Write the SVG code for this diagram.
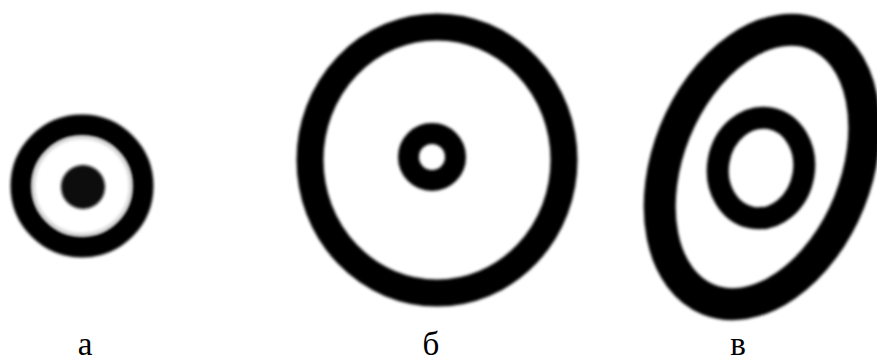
<svg xmlns="http://www.w3.org/2000/svg" width="877" height="363" viewBox="0 0 877 363">
  <style>
    .ring { fill: none; stroke: #000; }
    .lbl { font-family: "Liberation Serif", "Times New Roman", serif; font-size: 33px; fill: #000; text-anchor: middle; }
  </style>
  <defs>
    <filter id="soft" x="-10%" y="-10%" width="120%" height="120%">
      <feGaussianBlur stdDeviation="1.4"/>
    </filter>
  </defs>
  <rect width="877" height="363" fill="#fff"/>
  <g id="fig-a" filter="url(#soft)">
    <circle class="ring" cx="82" cy="186" r="61" stroke-width="21"/>
    <circle cx="82" cy="186" r="48" fill="none" stroke="#999" stroke-width="2" opacity="0.5"/>
    <circle cx="83" cy="187" r="22" fill="#111"/>
  </g>
  <g id="fig-b" filter="url(#soft)">
    <ellipse class="ring" cx="437" cy="160" rx="127" ry="133" stroke-width="27"/>
    <circle class="ring" cx="432" cy="157" r="23.5" stroke-width="21"/>
  </g>
  <g id="fig-c" filter="url(#soft)">
    <ellipse class="ring" cx="762" cy="167" rx="94" ry="143" stroke-width="32" transform="rotate(22 762 167)"/>
    <ellipse class="ring" cx="761" cy="168" rx="43" ry="50.5" stroke-width="22" transform="rotate(10 761 168)"/>
  </g>
  <g id="labels">
    <text class="lbl" x="85" y="355">а</text>
    <text class="lbl" x="431" y="355">б</text>
    <text class="lbl" x="738" y="355">в</text>
  </g>
</svg>
